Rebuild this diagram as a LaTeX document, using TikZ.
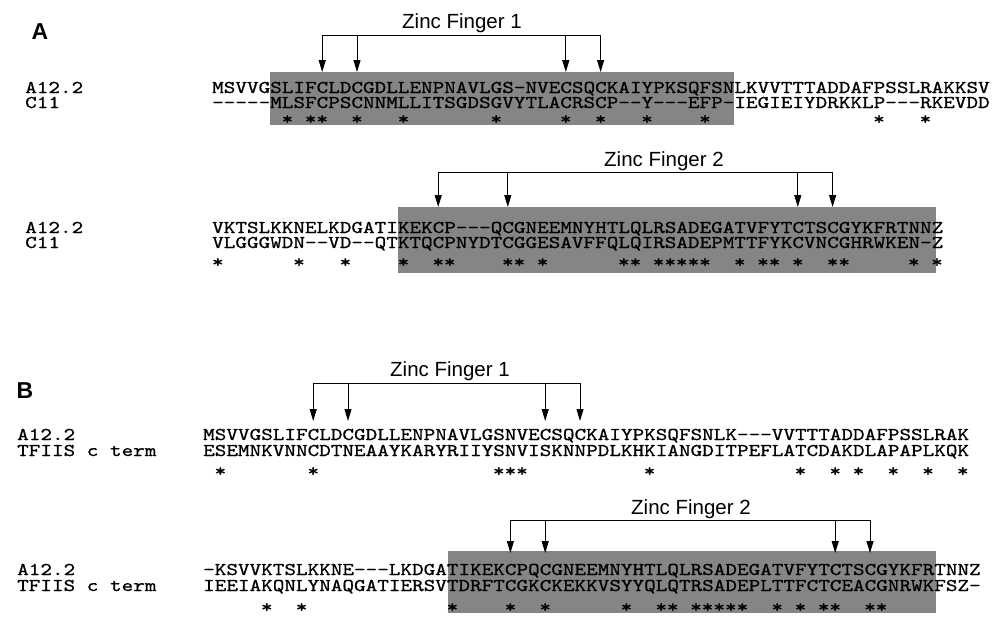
\documentclass[tikz,border=0pt]{standalone}
\usepackage{fontspec}
\newfontfamily\seqfont{lmmono10-regular}[Extension=.otf, FakeStretch=1.228, FakeBold=0.8]
\setsansfont{Liberation Sans}
\usetikzlibrary{arrows.meta}
\tikzset{
  seq/.style={font=\seqfont\fontsize{18}{18}\selectfont, anchor=base west, inner sep=0pt, text height=11pt, text depth=1pt},
  starnode/.style={font=\seqfont\fontsize{18}{18}\selectfont, anchor=north, inner sep=0pt},
  zflabel/.style={font=\sffamily\fontsize{20.5}{20.5}\selectfont, anchor=base, inner sep=0pt},
  panel/.style={font=\sffamily\bfseries\fontsize{23}{23}\selectfont, inner sep=0pt},
  shadebox/.style={fill=black!48, draw=none},
  zfline/.style={line width=1pt},
  zfarrow/.style={line width=1pt, -{Triangle[width=7pt,length=12pt]}},
}
\begin{document}
\begin{tikzpicture}[x=1pt,y=-1pt]
\useasboundingbox (0,0) rectangle (993,625);
\fill[white] (0,0) rectangle (993,625);

% ---------- Panel A ----------
\node[panel] (pA) at (40,32) {A};
\fill[shadebox] (270,72) rectangle (734,125);
\fill[shadebox] (398,207) rectangle (936,273);

% Zinc finger 1 (A)
\foreach \c [count=\i] in {10,13,31,34} {
  \coordinate (aT\i) at ({212+(\c-0.5)*11.6},35);
  \coordinate (aB\i) at ({212+(\c-0.5)*11.6},72);
}
\draw[zfline] (aT1) -- (aT4);
\foreach \i in {1,...,4} \draw[zfarrow] (aT\i) -- (aB\i);
\node[zflabel] (zfA1) at (462,28) {Zinc Finger 1};

\node[seq] (lA1a) at (25,93) {A12.2};
\node[seq] (lA1b) at (25,108) {C11};
\node[seq] (sA1a) at (212,93) {MSVVGSLIFCLDCGDLLENPNAVLGS-NVECSQCKAIYPKSQFSNLKVVTTTADDAFPSSLRAKKSV};
\node[seq] (sA1b) at (212,108) {-----MLSFCPSCNNMLLITSGDSGVYTLACRSCP--Y---EFP-IEGIEIYDRKKLP---RKEVDD};
\foreach \c in {7,9,10,13,17,25,31,34,38,43,58,62}
  \node[starnode] (stA1-\c) at ({212+(\c-0.5)*11.6},115) {*};

% Zinc finger 2 (A)
\foreach \c [count=\i] in {20,26,51,54} {
  \coordinate (cT\i) at ({212+(\c-0.5)*11.6},172);
  \coordinate (cB\i) at ({212+(\c-0.5)*11.6},207);
}
\draw[zfline] (cT1) -- (cT4);
\foreach \i in {1,...,4} \draw[zfarrow] (cT\i) -- (cB\i);
\node[zflabel] (zfA2) at (664,166) {Zinc Finger 2};

\node[seq] (lA2a) at (25,233) {A12.2};
\node[seq] (lA2b) at (25,248) {C11};
\node[seq] (sA2a) at (212,233) {VKTSLKKNELKDGATIKEKCP---QCGNEEMNYHTLQLRSADEGATVFYTCTSCGYKFRTNNZ};
\node[seq] (sA2b) at (212,248) {VLGGGWDN--VD--QTKTQCPNYDTCGGESAVFFQLQIRSADEPMTTFYKCVNCGHRWKEN-Z};
\foreach \c in {1,8,12,17,20,21,26,27,29,36,37,39,40,41,42,43,46,48,49,51,54,55,61,63}
  \node[starnode] (stA2-\c) at ({212+(\c-0.5)*11.6},258) {*};

% ---------- Panel B ----------
\node[panel] (pB) at (25,391) {B};
\fill[shadebox] (448,551) rectangle (936,613);

% Zinc finger 1 (B)
\foreach \c [count=\i] in {10,13,30,33} {
  \coordinate (bT\i) at ({203+(\c-0.5)*11.6},383);
  \coordinate (bB\i) at ({203+(\c-0.5)*11.6},421);
}
\draw[zfline] (bT1) -- (bT4);
\foreach \i in {1,...,4} \draw[zfarrow] (bT\i) -- (bB\i);
\node[zflabel] (zfB1) at (450,376) {Zinc Finger 1};

\node[seq] (lB1a) at (17,440) {A12.2};
\node[seq] (lB1b) at (17,456) {TFIIS c term};
\node[seq] (sB1a) at (203,440) {MSVVGSLIFCLDCGDLLENPNAVLGSNVECSQCKAIYPKSQFSNLK---VVTTTADDAFPSSLRAK};
\node[seq] (sB1b) at (203,456) {ESEMNKVNNCDTNEAAYKARYRIIYSNVISKNNPDLKHKIANGDITPEFLATCDAKDLAPAPLKQK};
\foreach \c in {2,10,26,27,28,39,52,55,57,60,63,66}
  \node[starnode] (stB1-\c) at ({203+(\c-0.5)*11.6},467) {*};

% Zinc finger 2 (B)
\foreach \c [count=\i] in {27,30,55,58} {
  \coordinate (dT\i) at ({203+(\c-0.5)*11.6},520);
  \coordinate (dB\i) at ({203+(\c-0.5)*11.6},553);
}
\draw[zfline] (dT1) -- (dT4);
\foreach \i in {1,...,4} \draw[zfarrow] (dT\i) -- (dB\i);
\node[zflabel] (zfB2) at (691,514) {Zinc Finger 2};

\node[seq] (lB2a) at (17,575) {A12.2};
\node[seq] (lB2b) at (17,591) {TFIIS c term};
\node[seq] (sB2a) at (203,575) {-KSVVKTSLKKNE---LKDGATIKEKCPQCGNEEMNYHTLQLRSADEGATVFYTCTSCGYKFRTNNZ};
\node[seq] (sB2b) at (203,591) {IEEIAKQNLYNAQGATIERSVTDRFTCGKCKEKKVSYYQLQTRSADEPLTTFCTCEACGNRWKFSZ-};
\foreach \c in {6,9,22,27,30,37,40,41,43,44,45,46,47,50,52,54,55,58,59}
  \node[starnode] (stB2-\c) at ({203+(\c-0.5)*11.6},603) {*};
\end{tikzpicture}
\end{document}
